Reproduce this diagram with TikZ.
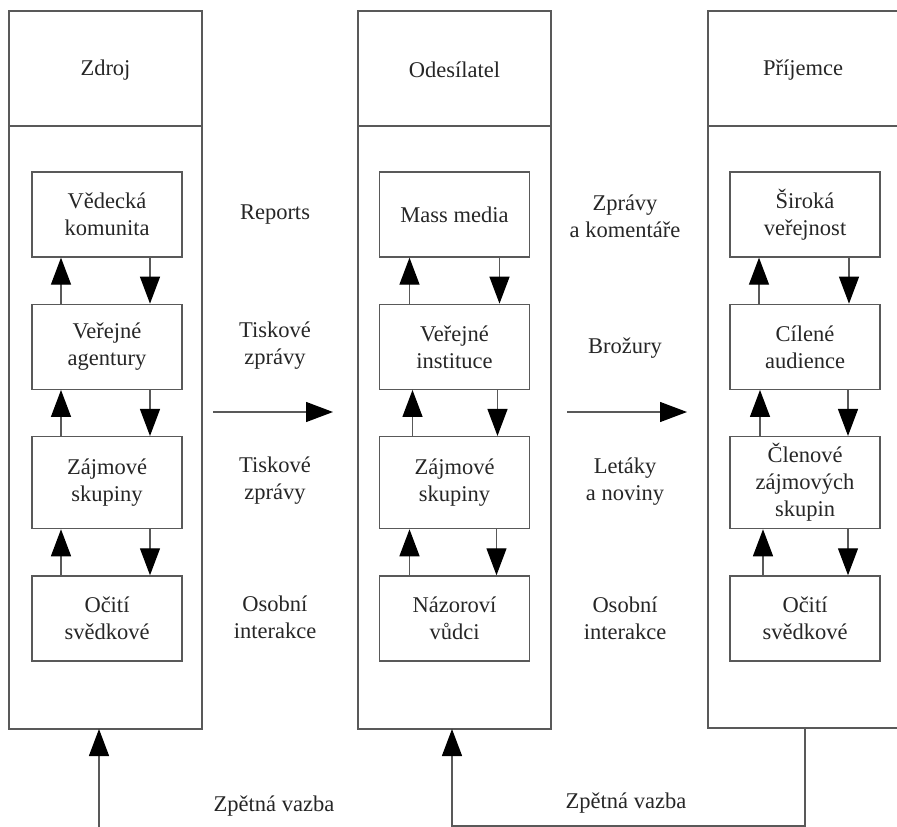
\documentclass[tikz,border=0pt]{standalone}
\usepackage{fontspec}
\setmainfont{Liberation Serif}
\usetikzlibrary{positioning,arrows.meta}

\begin{document}
\begin{tikzpicture}[x=1pt, y=-1pt, node distance=46pt,
  every node/.style={font=\fontsize{22.5}{27}\selectfont, text=black!85, align=center},
  main/.style={draw=black!65, line width=1.3pt, minimum width=150pt, minimum height=85pt, inner sep=2pt},
  tall/.style={main, minimum height=92pt},
  line/.style={draw=black!65, line width=1.3pt},
  arr/.style={line, -{Triangle[length=27pt,width=20pt,color=black]}}]
\useasboundingbox (0,0) rectangle (897,827);

\draw[line] (9,11) rectangle (202,729);
\draw[line] (9,126) -- (202,126);
\draw[line] (358,11) rectangle (551,729);
\draw[line] (358,126) -- (551,126);
\draw[line] (897,11) -| (708,728) -- (897,728);
\draw[line] (708,126) -- (897,126);

\node (zdroj) at (105.5,70) {Zdroj};
\node (odes) at (454.5,70) {Odesílatel};
\node (prij) at (803,70) {Příjemce};

\node[main] (z1) at (107,214.5) {Vědecká\\komunita};
\node[main] (z2) [below=of z1] {Veřejné\\agentury};
\node[tall] (z3) [below=of z2] {Zájmové\\skupiny};
\node[main] (z4) [below=of z3] {Očití\\svědkové};

\node[main] (o1) at (454.5,214.5) {Mass media};
\node[main] (o2) [below=of o1] {Veřejné\\instituce};
\node[tall] (o3) [below=of o2] {Zájmové\\skupiny};
\node[main] (o4) [below=of o3] {Názoroví\\vůdci};

\node[main] (p1) at (805,214.5) {Široká\\veřejnost};
\node[main] (p2) [below=of p1] {Cílené\\audience};
\node[tall] (p3) [below=of p2] {Členové\\zájmových\\skupin};
\node[main] (p4) [below=of p3] {Očití\\svědkové};

\node (l1) at (275,214.5) {Reports};
\node (l2) at (275,346) {Tiskové\\zprávy};
\node (l3) at (275,481) {Tiskové\\zprávy};
\node (l4) at (275,617) {Osobní\\interakce};
\node (m1) at (625,216) {Zprávy\\a komentáře};
\node (m2) at (625,348) {Brožury};
\node (m3) at (625,482) {Letáky\\a noviny};
\node (m4) at (625,618) {Osobní\\interakce};
\node (zv1) at (274,806) {Zpětná vazba};
\node (zv2) at (626,803) {Zpětná vazba};

\draw[arr] ([xshift=-46pt]z2.north) -- ([xshift=-46pt]z1.south);
\draw[arr] ([xshift=43pt]z1.south) -- ([xshift=43pt]z2.north);
\draw[arr] ([xshift=-46pt]z3.north) -- ([xshift=-46pt]z2.south);
\draw[arr] ([xshift=43pt]z2.south) -- ([xshift=43pt]z3.north);
\draw[arr] ([xshift=-46pt]z4.north) -- ([xshift=-46pt]z3.south);
\draw[arr] ([xshift=43pt]z3.south) -- ([xshift=43pt]z4.north);
\draw[arr] ([xshift=-45pt]o2.north) -- ([xshift=-45pt]o1.south);
\draw[arr] ([xshift=45pt]o1.south) -- ([xshift=45pt]o2.north);
\draw[arr] ([xshift=-42pt]o3.north) -- ([xshift=-42pt]o2.south);
\draw[arr] ([xshift=43pt]o2.south) -- ([xshift=43pt]o3.north);
\draw[arr] ([xshift=-45pt]o4.north) -- ([xshift=-45pt]o3.south);
\draw[arr] ([xshift=42pt]o3.south) -- ([xshift=42pt]o4.north);
\draw[arr] ([xshift=-46pt]p2.north) -- ([xshift=-46pt]p1.south);
\draw[arr] ([xshift=44pt]p1.south) -- ([xshift=44pt]p2.north);
\draw[arr] ([xshift=-45pt]p3.north) -- ([xshift=-45pt]p2.south);
\draw[arr] ([xshift=43pt]p2.south) -- ([xshift=43pt]p3.north);
\draw[arr] ([xshift=-42pt]p4.north) -- ([xshift=-42pt]p3.south);
\draw[arr] ([xshift=43pt]p3.south) -- ([xshift=43pt]p4.north);

\coordinate (a1) at (213,412);
\coordinate (a2) at (333,412);
\coordinate (b1) at (567,412);
\coordinate (b2) at (687,412);
\draw[arr] (a1) -- (a2);
\draw[arr] (b1) -- (b2);

\coordinate (zb) at (99,729);
\coordinate (ob) at (452,729);
\coordinate (pb) at (805,728);
\draw[arr] ([yshift=-98pt]zb) -- (zb);
\draw[arr] (pb) |- ([yshift=-97pt]ob) -- (ob);
\end{tikzpicture}
\end{document}
